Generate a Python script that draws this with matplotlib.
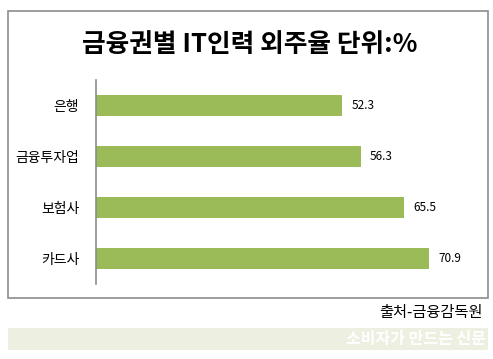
import matplotlib
matplotlib.use("Agg")
import matplotlib.pyplot as plt
from matplotlib.patches import Rectangle

plt.rcParams['font.family'] = ['Noto Sans CJK KR', 'DejaVu Sans']

categories = ['은행', '금융투자업', '보험사', '카드사']
values = [52.3, 56.3, 65.5, 70.9]
title = '금융권별 IT인력 외주율 단위:%'
source = '출처-금융감독원'
watermark = '소비자가 만드는 신문'

W, H = 493, 359
fig = plt.figure(figsize=(W / 100, H / 100), dpi=100)

def fx(px):
    return px / W

def fy(py):
    return 1 - py / H

# outer frame
fig.patches.append(Rectangle((fx(8), fy(298)), fx(488) - fx(8), fy(11) - fy(298),
                             transform=fig.transFigure, fill=False,
                             edgecolor='#8c8c8c', linewidth=1.2))
# bottom band
band = Rectangle((fx(8), fy(350)), fx(488) - fx(8), fy(328) - fy(350),
                 transform=fig.transFigure, facecolor='#edf0e1', edgecolor='none')
fig.patches.append(band)
fig.text(fx(486), fy(339), watermark, ha='right', va='center', fontsize=11.5,
         color='white', fontweight='bold')

fig.text(fx(250), fy(44), title, ha='center', va='center', fontsize=18.5,
         fontweight='bold', color='black')
fig.text(fx(483), fy(313), source, ha='right', va='center', fontsize=11,
         color='black')

left, right = 96, 96 + 80 * 4.7
top, bottom = 80, 284
ax = fig.add_axes([fx(left), fy(bottom), fx(right) - fx(left), fy(top) - fy(bottom)])
y = list(range(len(categories)))
ax.barh(y, values, height=0.4, color='#9bbb59', left=0)
ax.set_xlim(0, 80)
ax.set_ylim(len(categories) - 0.5, -0.5)
ax.set_yticks(y)
ax.set_yticklabels(categories, fontsize=10)
ax.tick_params(axis='y', length=0, pad=12)
ax.set_xticks([])
for s in ['top', 'right', 'bottom']:
    ax.spines[s].set_visible(False)
ax.spines['left'].set_color('#8c8c8c')
ax.spines['left'].set_linewidth(1.2)
ax.patch.set_alpha(0)
for yi, v in zip(y, values):
    ax.text(v + 2, yi, f'{v}', va='center', ha='left', fontsize=8.5, color='black')

fig.savefig('out.png', dpi=100)
